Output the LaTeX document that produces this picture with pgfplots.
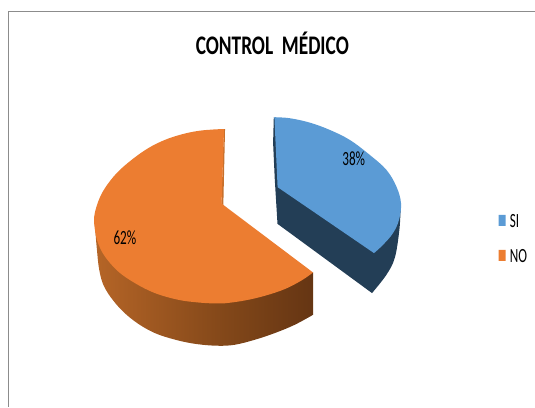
\documentclass[border=0pt]{standalone}
\usepackage{pgfplots}
\pgfplotsset{compat=1.18}
\usepackage{fontspec}
\setmainfont{Carlito}
\definecolor{siBlue}{HTML}{5B9BD5}
\definecolor{siDark}{HTML}{233E56}
\definecolor{noOrange}{HTML}{EC7D31}
\definecolor{noInner}{HTML}{C8702C}
\definecolor{noMid}{HTML}{824719}
\definecolor{noDeep}{HTML}{5E3112}
\definecolor{framegray}{HTML}{8C8C8C}
\pgfdeclarehorizontalshading{noSide}{100bp}{
  color(0bp)=(noInner);
  color(14bp)=(noInner);
  color(55bp)=(noMid);
  color(80bp)=(noDeep);
  color(100bp)=(noDeep)}
\begin{document}
\begin{tikzpicture}
\begin{axis}[
  anchor=south west, at={(0,0)},
  scale only axis, width=535pt, height=407pt,
  xmin=0, xmax=535, ymin=0, ymax=407, y dir=reverse,
  hide axis, clip=false]
% chart frame: top and left edges only
\addplot[framegray, line width=0.8pt] coordinates {(535,11.5) (8.5,11.5) (8.5,407)};
% NO slice: outer wall
\addplot[draw=none, shading=noSide, smooth, tension=0.6] coordinates {
  (95,225) (96.7,246.7) (99.5,271) (105,288.3) (118.3,306.7) (135,321.7) (155,333.3)
  (178.3,340.7) (198.3,344.5) (218.3,346) (235,345) (255,340) (275,333.3) (295,325) (313.3,315)}
  -- (axis cs:313.3,272.7) -- (axis cs:95,225) -- cycle;
% NO slice: cut wall seen at the back
\addplot[draw=none, fill=noInner] coordinates {(224,129.3) (225.2,129.3) (223.5,205) (221.5,205) (224,129.3)};
% NO slice: top face
\addplot[draw=none, fill=noOrange, smooth, tension=0.6] coordinates {
  (224.2,129.2) (215,129.5) (198.3,131) (181.7,134.5) (165,140) (148.3,148.3) (131.7,160)
  (116.7,173.3) (105,188.3) (98.3,201.7) (94.3,216.7) (95,230) (98,243) (105,256.7)
  (118.3,271.7) (135,283.3) (155,293.3) (178.3,300) (198.3,302.7) (215,303.7) (225,303.5)
  (245,300.7) (265,296) (285,289.3) (301.7,280.7) (313.3,272.7)}
  -- (axis cs:223.4,205) -- (axis cs:221.7,203.5) -- cycle;
% SI slice: inner wall strip and outer wall
\addplot[draw=none, fill=siDark, smooth, tension=0.6] coordinates {
  (372.3,293.3) (386.7,275) (395,258.3) (399.3,233.3) (400.7,215) (400.9,205)}
  -- (axis cs:274,117.3) -- (axis cs:273.3,143) -- (axis cs:275,180) -- (axis cs:277.7,224) -- cycle;
% SI slice: top face
\addplot[draw=none, fill=siBlue, smooth, tension=0.6] coordinates {
  (274.6,117.3) (290,118.3) (310,122.7) (330,130) (350,140) (370,155) (386.7,170) (396.7,186.7)
  (401.3,203.3) (399.3,220) (393.3,233.3) (383.3,245) (374.3,253.3)}
  -- (axis cs:277.8,187.3) -- cycle;
% legend keys
\addplot[draw=none, fill=siBlue] coordinates {(499,215) (506,215) (506,226) (499,226) (499,215)};
\addplot[draw=none, fill=noOrange] coordinates {(499,250) (506,250) (506,261) (499,261) (499,250)};
\node[anchor=center] at (axis cs:272.5,43.5) {\scalebox{0.88}[1.22]{\fontsize{22pt}{22pt}\selectfont\bfseries CONTROL\ \ MÉDICO}};
\node at (axis cs:354,159) {\scalebox{0.85}[1.3]{\fontsize{15.5pt}{15pt}\selectfont 38\%}};
\node at (axis cs:125,238) {\scalebox{0.85}[1.3]{\fontsize{15.5pt}{15pt}\selectfont 62\%}};
\node[anchor=west, inner sep=0pt] at (axis cs:510,221) {\scalebox{0.85}[1.3]{\fontsize{15.5pt}{15pt}\selectfont SI}};
\node[anchor=west, inner sep=0pt] at (axis cs:510,256) {\scalebox{0.85}[1.3]{\fontsize{15.5pt}{15pt}\selectfont NO}};
\end{axis}
\path[use as bounding box] (0,0) rectangle (535pt,407pt);
\end{tikzpicture}
\end{document}
